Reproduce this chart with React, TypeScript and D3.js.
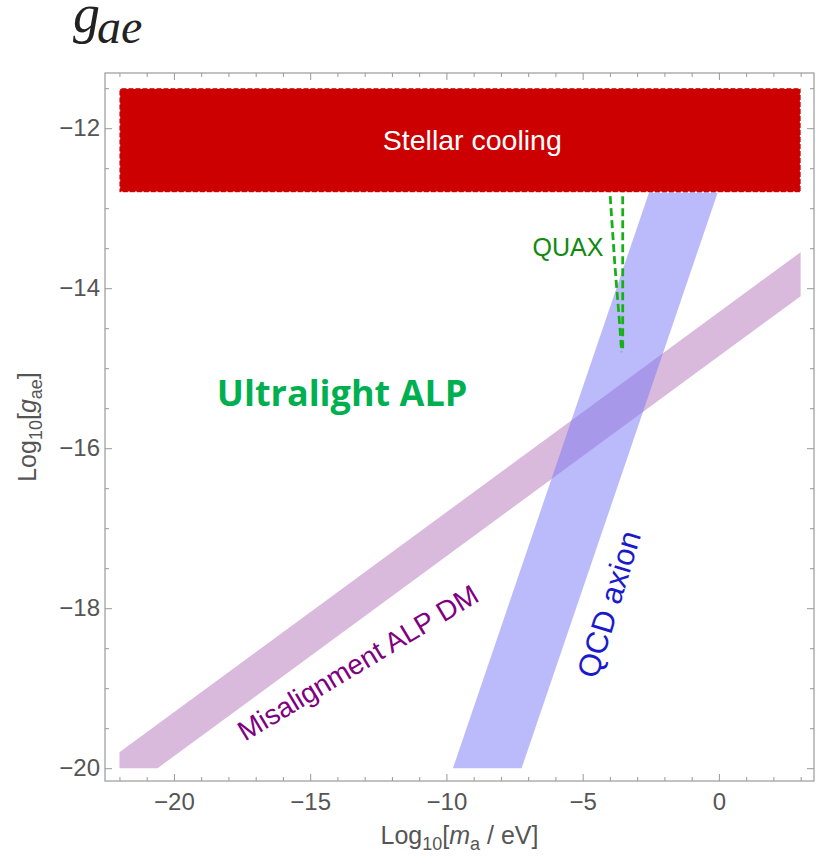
import React, { useEffect, useRef } from "react";
import * as d3 from "d3";

const W = 816;
const H = 865;

// axis ranges (log10 units) and ticks
const xDomain = [-22.53, 3.49];
const yDomain = [-20.16, -11.31];
const xTicks = [-20, -15, -10, -5, 0];
const yTicks = [-20, -18, -16, -14, -12];
const xMinor = [-22, -21, -19, -18, -17, -16, -14, -13, -12, -11, -9, -8, -7, -6, -4, -3, -2, -1, 1, 2, 3];
const yMinor = [-19.5, -19, -18.5, -17.5, -17, -16.5, -15.5, -15, -14.5, -13.5, -13, -12.5, -11.5];

// stellar cooling excluded box
const stellarX = [-22, 3];
const stellarY = [-12.8, -11.5];

// misalignment ALP DM band (polygon, log10 m, log10 g)
const misalignBand: [number, number][] = [
  [-22, -20], [-22, -19.8], [3, -13.55], [3, -14.1], [-20.6, -20],
];

// QCD axion band
const qcdBand: [number, number][] = [
  [-9.76, -20], [-1.26, -11.5], [1.26, -11.5], [-7.24, -20],
];

// QUAX reach (two dashed edges)
const quaxLeft: [number, number][] = [
  [-4.0, -11.5], [-4.0, -12.8], [-3.82, -13.7], [-3.75, -14.0], [-3.63, -14.5], [-3.57, -14.8],
];
const quaxRight: [number, number][] = [
  [-3.53, -11.5], [-3.53, -14.8],
];

const font = "'Liberation Sans', Arial, sans-serif";
const gray = "#555";
const frameCol = "#999";

function Chart() {
  const ref = useRef<SVGSVGElement>(null);

  useEffect(() => {
    const svg = d3.select(ref.current);
    svg.selectAll("*").remove();

    const left = 105, right = 814, top = 73, bottom = 781;
    const x = d3.scaleLinear().domain(xDomain).range([left, right]);
    const y = d3.scaleLinear().domain(yDomain).range([bottom, top]);

    const line = d3.line<[number, number]>().x(d => x(d[0])).y(d => y(d[1]));

    // title
    const title = svg.append("text")
      .attr("x", 73).attr("y", 32)
      .style("font-family", "'Liberation Serif', 'Times New Roman', serif")
      .style("font-style", "italic")
      .attr("fill", "#222");
    title.append("tspan").attr("font-size", 54).text("g");
    title.append("tspan").attr("font-size", 48).attr("dy", 11).attr("dx", -3).text("ae");

    const plot = svg.append("g");

    plot.append("path")
      .attr("d", line(misalignBand) + "Z")
      .attr("fill", "#a050a8")
      .attr("fill-opacity", 0.4);

    plot.append("path")
      .attr("d", line(qcdBand) + "Z")
      .attr("fill", "#7777f8")
      .attr("fill-opacity", 0.5);

    [quaxLeft, quaxRight].forEach(pts => {
      plot.append("path")
        .attr("d", line(pts))
        .attr("fill", "none")
        .attr("stroke", "#18b018")
        .attr("stroke-width", 2.8)
        .attr("stroke-dasharray", "8 4");
    });

    plot.append("rect")
      .attr("x", x(stellarX[0]))
      .attr("y", y(stellarY[1]))
      .attr("width", x(stellarX[1]) - x(stellarX[0]))
      .attr("height", y(stellarY[0]) - y(stellarY[1]))
      .attr("fill", "#cc0000")
      .attr("stroke", "#fff")
      .attr("stroke-width", 1.5)
      .attr("stroke-dasharray", "2 5");

    // labels
    plot.append("text")
      .attr("x", x(-9.05)).attr("y", y(-12.275))
      .attr("text-anchor", "middle")
      .attr("fill", "#fff")
      .style("font-family", font).attr("font-size", 28.5)
      .text("Stellar cooling");

    plot.append("text")
      .attr("x", x(-5.54)).attr("y", y(-13.6))
      .attr("text-anchor", "middle")
      .attr("fill", "#108a10")
      .style("font-family", font).attr("font-size", 25)
      .text("QUAX");

    plot.append("text")
      .attr("x", x(-13.83)).attr("y", y(-15.475))
      .attr("text-anchor", "middle")
      .attr("fill", "#00b050")
      .style("font-family", "'Open Sans', sans-serif")
      .attr("font-weight", "bold")
      .attr("font-size", 36)
      .text("Ultralight ALP");

    plot.append("text")
      .attr("transform", `translate(${x(-13.25)},${y(-18.68)}) rotate(-31)`)
      .attr("text-anchor", "middle")
      .attr("dy", "0.35em")
      .attr("fill", "#800080")
      .style("font-family", font).attr("font-size", 28)
      .text("Misalignment ALP DM");

    plot.append("text")
      .attr("transform", `translate(${x(-4.04)},${y(-17.95)}) rotate(-73)`)
      .attr("text-anchor", "middle")
      .attr("dy", "0.35em")
      .attr("fill", "#1a1acc")
      .style("font-family", font).attr("font-size", 31)
      .text("QCD axion");

    // frame
    svg.append("rect")
      .attr("x", left).attr("y", top)
      .attr("width", right - left).attr("height", bottom - top)
      .attr("fill", "none").attr("stroke", frameCol).attr("stroke-width", 1.2);

    const styleAxis = (g: any) => {
      g.select(".domain").remove();
      g.selectAll("line").attr("stroke", frameCol);
      g.selectAll("text").attr("fill", gray).style("font-family", font).attr("font-size", 24);
    };

    svg.append("g").attr("transform", `translate(0,${bottom})`)
      .call(d3.axisBottom(x).tickValues(xTicks).tickSize(-7).tickPadding(12)).call(styleAxis);
    svg.append("g").attr("transform", `translate(0,${bottom})`)
      .call(d3.axisBottom(x).tickValues(xMinor).tickSize(-4).tickFormat(() => "")).call(styleAxis);
    svg.append("g").attr("transform", `translate(0,${top})`)
      .call(d3.axisTop(x).tickValues(xTicks).tickSize(-7).tickFormat(() => "")).call(styleAxis);
    svg.append("g").attr("transform", `translate(0,${top})`)
      .call(d3.axisTop(x).tickValues(xMinor).tickSize(-4).tickFormat(() => "")).call(styleAxis);

    svg.append("g").attr("transform", `translate(${left},0)`)
      .call(d3.axisLeft(y).tickValues(yTicks).tickSize(-7).tickPadding(5)).call(styleAxis);
    svg.append("g").attr("transform", `translate(${left},0)`)
      .call(d3.axisLeft(y).tickValues(yMinor).tickSize(-4).tickFormat(() => "")).call(styleAxis);
    svg.append("g").attr("transform", `translate(${right},0)`)
      .call(d3.axisRight(y).tickValues(yTicks).tickSize(-7).tickFormat(() => "")).call(styleAxis);
    svg.append("g").attr("transform", `translate(${right},0)`)
      .call(d3.axisRight(y).tickValues(yMinor).tickSize(-4).tickFormat(() => "")).call(styleAxis);

    // axis titles
    const xl = svg.append("text")
      .attr("x", (left + right) / 2).attr("y", 844)
      .attr("text-anchor", "middle")
      .attr("fill", gray).style("font-family", font).attr("font-size", 25);
    xl.append("tspan").text("Log");
    xl.append("tspan").attr("font-size", 18).attr("dy", 6).text("10");
    xl.append("tspan").attr("dy", -6).text("[");
    xl.append("tspan").attr("font-style", "italic").text("m");
    xl.append("tspan").attr("font-size", 18).attr("dy", 6).text("a");
    xl.append("tspan").attr("dy", -6).text(" / eV]");

    const yl = svg.append("text")
      .attr("transform", `translate(36,${(top + bottom) / 2}) rotate(-90)`)
      .attr("text-anchor", "middle")
      .attr("fill", gray).style("font-family", font).attr("font-size", 25);
    yl.append("tspan").text("Log");
    yl.append("tspan").attr("font-size", 18).attr("dy", 6).text("10");
    yl.append("tspan").attr("dy", -6).text("[");
    yl.append("tspan").attr("font-style", "italic").text("g");
    yl.append("tspan").attr("font-size", 18).attr("dy", 6).text("ae");
    yl.append("tspan").attr("dy", -6).text("]");
  }, []);

  return (
    <svg ref={ref} width={W} height={H}
      style={{ position: "absolute", left: 0, top: 0, background: "#fff", display: "block" }} />
  );
}

export default function App() {
  return <Chart />;
}
